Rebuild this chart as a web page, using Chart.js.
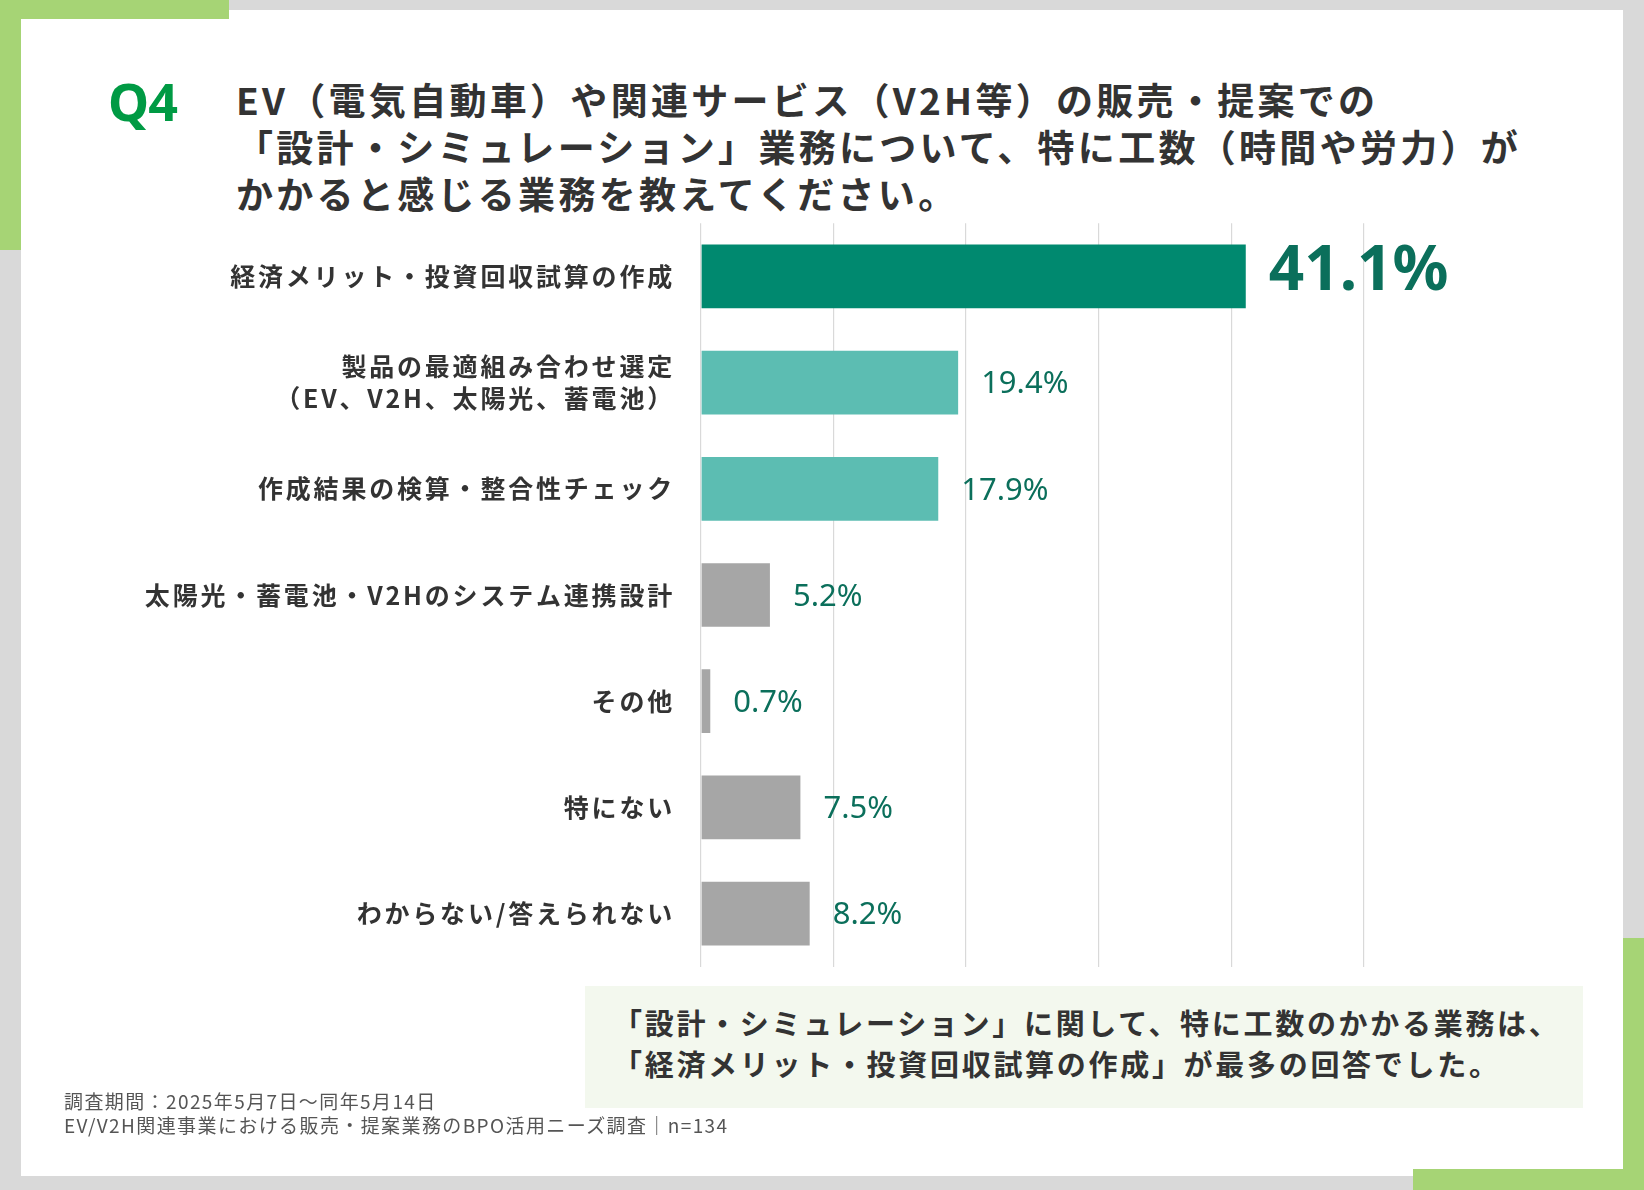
<!DOCTYPE html>
<html lang="ja">
<head>
<meta charset="utf-8">
<script src="https://cdn.jsdelivr.net/npm/chart.js@4/dist/chart.umd.min.js"></script>
<style>
  html,body{margin:0;padding:0;}
  body{width:1644px;height:1190px;background:#d9d9d9;position:relative;overflow:hidden;font-family:"Noto Sans CJK JP","Noto Sans",sans-serif;}
  .panel{position:absolute;left:21px;top:10px;width:1602px;height:1166px;background:#fff;}
  .g{position:absolute;background:#a6d475;}
  .q{position:absolute;left:108px;top:70px;font-family:"Noto Sans","Open Sans",sans-serif;font-weight:700;font-size:52px;color:#009a44;line-height:62px;letter-spacing:-1px;}
  .title{position:absolute;left:236px;top:76px;font-weight:700;font-size:37px;line-height:47px;color:#333;letter-spacing:3.3px;}
  .box{position:absolute;left:585px;top:986px;width:998px;height:122px;background:#f3f8ee;}
  .box div{position:absolute;left:28px;top:16px;font-weight:700;font-size:29px;line-height:41px;color:#333;letter-spacing:2.7px;white-space:nowrap;}
  .foot{position:absolute;left:64px;top:1089px;font-size:19px;line-height:24px;color:#555;letter-spacing:1.4px;white-space:nowrap;}
  #wrap{position:absolute;left:100px;top:181px;width:1500px;height:828px;}
</style>
</head>
<body>
<div class="panel"></div>
<div class="g" style="left:0;top:0;width:229px;height:19px;"></div>
<div class="g" style="left:0;top:0;width:21px;height:250px;"></div>
<div class="g" style="left:1623px;top:938px;width:21px;height:252px;"></div>
<div class="g" style="left:1413px;top:1169px;width:231px;height:21px;"></div>
<div class="q">Q4</div>
<div class="title">EV（電気自動車）や関連サービス（V2H等）の販売・提案での<br>「設計・シミュレーション」業務について、特に工数（時間や労力）が<br>かかると感じる業務を教えてください。</div>
<div id="wrap"><canvas id="c"></canvas></div>
<div class="box"><div>「設計・シミュレーション」に関して、特に工数のかかる業務は、<br>「経済メリット・投資回収試算の作成」が最多の回答でした。</div></div>
<div class="foot">調査期間：2025年5月7日～同年5月14日<br>EV/V2H関連事業における販売・提案業務のBPO活用ニーズ調査｜n=134</div>
<script>
const categories = [
  "経済メリット・投資回収試算の作成",
  ["製品の最適組み合わせ選定", "（EV、V2H、太陽光、蓄電池）"],
  "作成結果の検算・整合性チェック",
  "太陽光・蓄電池・V2Hのシステム連携設計",
  "その他",
  "特にない",
  "わからない/答えられない"
];
const values = [41.1, 19.4, 17.9, 5.2, 0.7, 7.5, 8.2];
const barColors = ["#00896f", "#5cbdb2", "#5cbdb2", "#a6a6a6", "#a6a6a6", "#a6a6a6", "#a6a6a6"];
const gridTicks = [0, 10, 20, 30, 40, 50];

const spacing = {
  id: "spacing",
  beforeDraw(chart) { chart.ctx.letterSpacing = "2.8px"; }
};

const valueLabels = {
  id: "valueLabels",
  afterDatasetsDraw(chart) {
    const ctx = chart.ctx;
    const meta = chart.getDatasetMeta(0);
    ctx.save();
    ctx.letterSpacing = "0px";
    ctx.textBaseline = "middle";
    ctx.textAlign = "left";
    ctx.fillStyle = "#0b6f5b";
    meta.data.forEach((bar, i) => {
      const txt = values[i].toFixed(1) + "%";
      if (i === 0) {
        ctx.font = "700 62px 'Noto Sans', sans-serif";
        ctx.fillText(txt, bar.x + 23, bar.y - 4);
      } else {
        ctx.font = "400 31px 'Noto Sans', sans-serif";
        ctx.fillText(txt, bar.x + 23, bar.y + 2);
      }
    });
    ctx.restore();
  }
};

new Chart(document.getElementById("c"), {
  type: "bar",
  data: {
    labels: categories,
    datasets: [{ data: values, backgroundColor: barColors, barPercentage: 0.6, categoryPercentage: 1.0 }]
  },
  options: {
    indexAxis: "y",
    responsive: true,
    maintainAspectRatio: false,
    animation: false,
    layout: { padding: { top: 0, bottom: 0, left: 0, right: 170 } },
    plugins: { legend: { display: false }, tooltip: { enabled: false } },
    scales: {
      x: {
        min: 0, max: 55,
        afterBuildTicks(scale) { scale.ticks = gridTicks.map(v => ({ value: v })); },
        ticks: { display: false },
        grid: { color: "#d9d9d9", lineWidth: 1.2, drawTicks: false },
        border: { display: false }
      },
      y: {
        afterFit(scale) { scale.width = 601; },
        ticks: { padding: 26, color: "#333", font: { family: "'Noto Sans CJK JP', sans-serif", size: 25, weight: "700", lineHeight: 1.3 } },
        grid: { display: false, drawTicks: false },
        border: { display: false }
      }
    }
  },
  plugins: [spacing, valueLabels]
});
</script>
</body>
</html>
